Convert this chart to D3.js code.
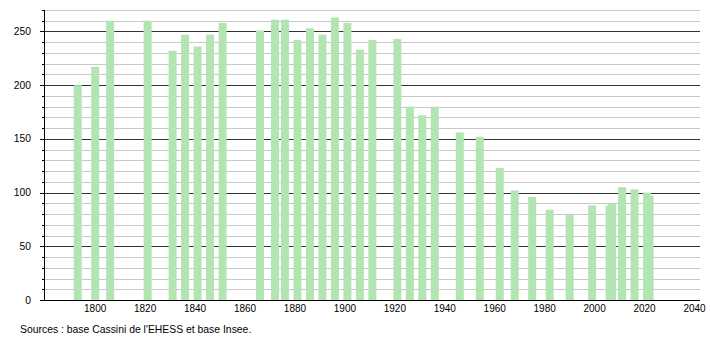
<!DOCTYPE html>
<html>
<head>
<meta charset="utf-8">
<script src="https://cdn.jsdelivr.net/npm/d3@7/dist/d3.min.js"></script>
<style>
  html, body { margin: 0; padding: 0; background: #fff; }
  svg { display: block; }
  text { font-family: "Liberation Sans", Arial, sans-serif; fill: #000; }
</style>
</head>
<body>
<svg id="chart" width="710" height="340"></svg>
<script>
const years = [1793,1800,1806,1821,1831,1836,1841,1846,1851,1866,1872,1876,1881,1886,1891,1896,1901,1906,1911,1921,1926,1931,1936,1946,1954,1962,1968,1975,1982,1990,1999,2006,2007,2011,2016,2021,2022];
const population = [200,217,260,260,232,247,236,247,258,251,261,261,242,253,247,263,258,233,242,243,180,172,180,156,152,123,102,96,84,79,88,88,90,105,103,100,97];
const xTicks = [1800,1820,1840,1860,1880,1900,1920,1940,1960,1980,2000,2020,2040];
const yMajorTicks = [0,50,100,150,200,250];
const yMinorTicks = d3.range(0, 271, 10);
const sourceText = "Sources : base Cassini de l'EHESS et base Insee.";

const svg = d3.select("#chart");
const mLeft = 44, mRight = 700, mTop = 10, mBottom = 300;

const x = d3.scaleLinear().domain([1779.5, 2042.2]).range([mLeft, mRight]);
const y = d3.scaleLinear().domain([0, 270]).range([mBottom, mTop]);
const barW = 8;

// minor gridlines
svg.append("g").selectAll("line").data(yMinorTicks.filter(v => v % 50 !== 0))
  .join("line")
  .attr("x1", mLeft).attr("x2", mRight)
  .attr("y1", d => Math.round(y(d)) + 0.5).attr("y2", d => Math.round(y(d)) + 0.5)
  .attr("stroke", "#c8c8c8").attr("stroke-width", 1);

// major gridlines
svg.append("g").selectAll("line").data(yMajorTicks.filter(v => v > 0))
  .join("line")
  .attr("x1", mLeft).attr("x2", mRight)
  .attr("y1", d => Math.round(y(d)) + 0.5).attr("y2", d => Math.round(y(d)) + 0.5)
  .attr("stroke", "#333").attr("stroke-width", 1);

// bars
svg.append("g").selectAll("rect").data(years.map((yr, i) => ({yr, v: population[i]})))
  .join("rect")
  .attr("x", d => x(d.yr) - barW / 2)
  .attr("width", barW)
  .attr("y", d => y(d.v))
  .attr("height", d => y(0) - y(d.v))
  .attr("fill", "#b3e5b3");

// y axis line and ticks
const yAxis = svg.append("g");
yAxis.append("line").attr("x1", mLeft + 0.5).attr("x2", mLeft + 0.5)
  .attr("y1", mTop).attr("y2", mBottom).attr("stroke", "#000");
yAxis.selectAll("line.minor").data(yMinorTicks.filter(v => v % 50 !== 0))
  .join("line").attr("class", "minor")
  .attr("x1", mLeft - 2).attr("x2", mLeft)
  .attr("y1", d => Math.round(y(d)) + 0.5).attr("y2", d => Math.round(y(d)) + 0.5)
  .attr("stroke", "#000");
yAxis.selectAll("line.major").data(yMajorTicks)
  .join("line").attr("class", "major")
  .attr("x1", mLeft - 4).attr("x2", mLeft)
  .attr("y1", d => Math.round(y(d)) + 0.5).attr("y2", d => Math.round(y(d)) + 0.5)
  .attr("stroke", "#000");
yAxis.selectAll("text").data(yMajorTicks)
  .join("text")
  .attr("x", 31).attr("y", d => y(d) + 3.5)
  .attr("text-anchor", "end")
  .attr("font-size", "10.3px")
  .text(d => d);

// x axis line and labels
const xAxis = svg.append("g");
xAxis.append("line").attr("x1", mLeft - 4).attr("x2", mRight)
  .attr("y1", mBottom + 0.5).attr("y2", mBottom + 0.5).attr("stroke", "#000");
xAxis.selectAll("text").data(xTicks)
  .join("text")
  .attr("x", d => x(d)).attr("y", 312)
  .attr("text-anchor", "middle")
  .attr("font-size", "10px")
  .text(d => d);

// source
svg.append("text").attr("x", 20).attr("y", 333)
  .attr("font-size", "10.4px")
  .text(sourceText);
</script>
</body>
</html>
